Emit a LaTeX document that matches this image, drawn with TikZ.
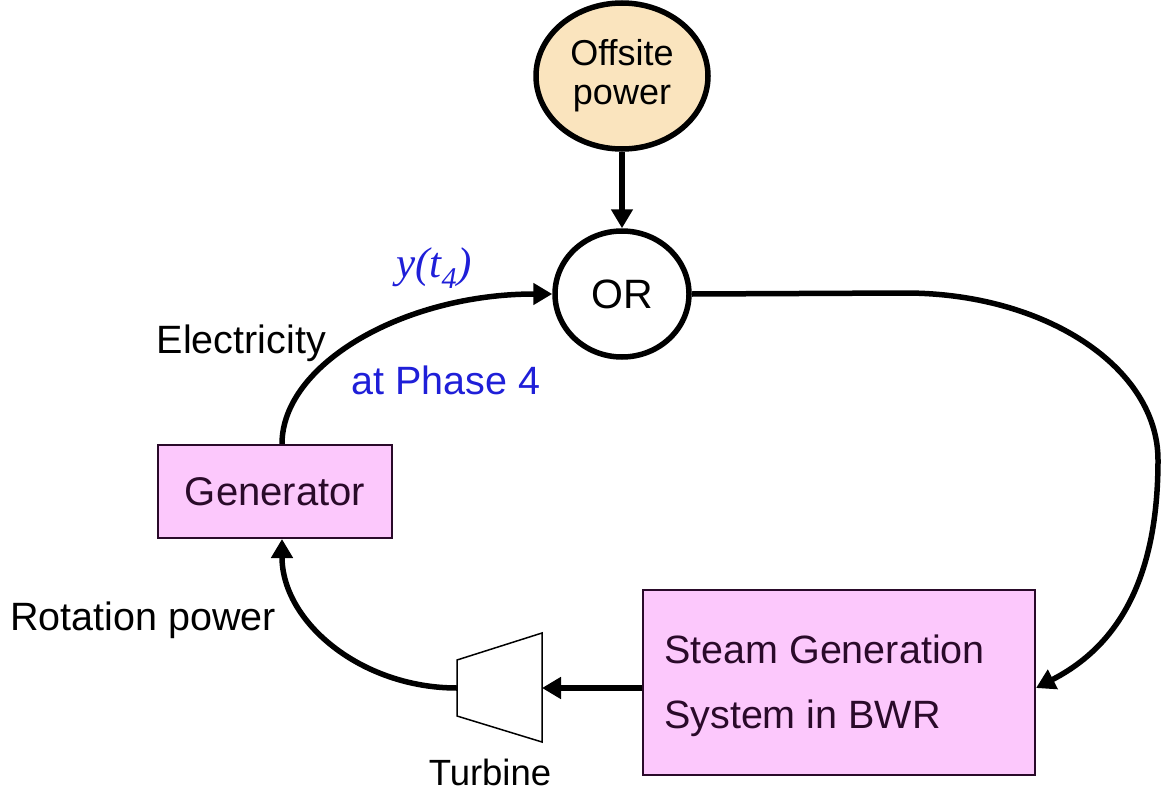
\documentclass[tikz,border=0pt]{standalone}
\usepackage{fontspec}
\setmainfont{Liberation Sans}
\newfontfamily\serifit{Liberation Serif}
\usetikzlibrary{shapes.geometric,arrows.meta}
\definecolor{pinkfill}{HTML}{FCC8FC}
\definecolor{peach}{HTML}{FAE4BE}
\definecolor{txtblue}{HTML}{1F1FD8}
\definecolor{boxtxt}{HTML}{2A0A2A}
\begin{document}
\begin{tikzpicture}[x=1pt,y=-1pt,
  lbl/.style={inner sep=0pt, font=\fontsize{39.5}{41}\selectfont},
  pinkbox/.style={draw=boxtxt, line width=2pt, fill=pinkfill, inner sep=0pt, text=boxtxt},
  conn/.style={line width=5.5pt},
  arr/.style={conn, -{Triangle[length=19pt,width=21pt]}}]
\useasboundingbox (0,0) rectangle (1162,795);
% nodes
\node[ellipse, draw, line width=5.5pt, fill=peach, minimum width=172pt, minimum height=146pt, inner sep=0pt,
      align=center, font=\fontsize{36}{39}\selectfont] (off) at (622,76) {Offsite\\power};
\node[ellipse, draw, line width=5.5pt, fill=white, minimum width=134pt, minimum height=126pt, inner sep=0pt,
      font=\fontsize{41}{43}\selectfont] (or) at (622,294) {OR};
\node[pinkbox, minimum width=234pt, minimum height=93pt, font=\fontsize{40}{42}\selectfont] (gen) at (275,491.5) {Generator};
\node[pinkbox, minimum width=392pt, minimum height=185pt] (steam) at (839,682.5) {};
\node[anchor=west, align=left, inner sep=0pt, text=boxtxt, font=\fontsize{39.5}{65}\selectfont] (steamtxt) at ([xshift=22pt,yshift=-3pt]steam.west) {Steam Generation\\System in BWR};
% turbine
\coordinate (tl) at (457,688);
\coordinate (tr) at (542,688);
\draw[line width=1.5pt, fill=white] (457,660) -- (542,633) -- (542,742) -- (457,716) -- cycle;
\node[lbl, font=\fontsize{36.5}{38}\selectfont] (turb) at (490,772) {Turbine};
% labels
\node[lbl, anchor=east] (elec) at (326,343) {Electricity};
\node[lbl, anchor=west, text=txtblue] (phase) at (351,380) {at Phase 4};
\node[inner sep=0pt, text=txtblue, font=\serifit\itshape\fontsize{43}{45}\selectfont] (yt) at (434,268) {y(t\textsubscript{4})};
\node[lbl, anchor=west] (rot) at (10,620) {Rotation power};
% connectors
\coordinate (r1) at (905,293);
\coordinate (r2) at (1158,460);
\coordinate (steamin) at (steam.east |- tr);
\draw[arr] (off.south) -- (or.north);
\draw[arr] ([xshift=7pt]gen.north) .. controls (282,364) and (404,294) .. (or.west);
\draw[arr] (or.east) -- (r1) .. controls (1046,293) and (1158,368) .. (r2) .. controls (1158,590) and (1110,650) .. (steamin);
\draw[arr] (steam.west |- tr) -- (tr);
\draw[arr] (tl) .. controls (361,688) and (282,622) .. ([xshift=7pt]gen.south);
\end{tikzpicture}
\end{document}
